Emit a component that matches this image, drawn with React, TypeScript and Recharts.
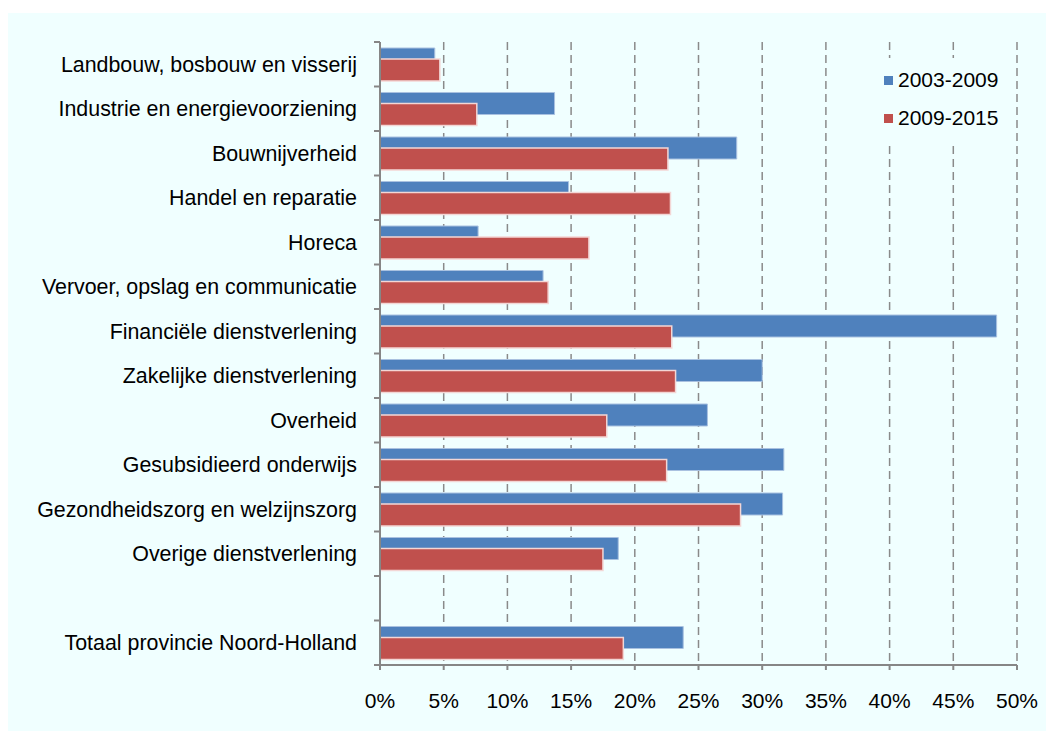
import React from "react";
import {
  Bar,
  BarChart,
  CartesianGrid,
  Legend,
  XAxis,
  YAxis,
} from "recharts";

// sectors (empty row separates the province total)
const sectors = [
  "Landbouw, bosbouw en visserij",
  "Industrie en energievoorziening",
  "Bouwnijverheid",
  "Handel en reparatie",
  "Horeca",
  "Vervoer, opslag en communicatie",
  "Financiële dienstverlening",
  "Zakelijke dienstverlening",
  "Overheid",
  "Gesubsidieerd onderwijs",
  "Gezondheidszorg en welzijnszorg",
  "Overige dienstverlening",
  "",
  "Totaal provincie Noord-Holland",
];

const growth2003_2009 = [
  0.043, 0.137, 0.28, 0.148, 0.077, 0.128, 0.484, 0.3, 0.257, 0.317, 0.316,
  0.187, null, 0.238,
];
const growth2009_2015 = [
  0.047, 0.076, 0.226, 0.228, 0.164, 0.132, 0.229, 0.232, 0.178, 0.225, 0.283,
  0.175, null, 0.191,
];

const xTicks = [0, 0.05, 0.1, 0.15, 0.2, 0.25, 0.3, 0.35, 0.4, 0.45, 0.5];

const BLUE = "#4F81BD";
const RED = "#C0504D";
const AXIS = "#868686";
const FONT = '"Liberation Sans", Arial, sans-serif';

const data = sectors.map((name, i) => ({
  name,
  p1: growth2003_2009[i],
  p2: growth2009_2015[i],
}));

function SectorTick(props: any) {
  const { x, y, payload, index } = props;
  const half = payload?.offset ?? 22.25;
  return (
    <g>
      <line x1={x - 6} x2={x} y1={y - half} y2={y - half} stroke={AXIS} strokeWidth={2} />
      {index === sectors.length - 1 && (
        <line x1={x - 6} x2={x} y1={y + half} y2={y + half} stroke={AXIS} strokeWidth={2} />
      )}
      <text
        x={x - 23}
        y={y}
        dy="0.355em"
        textAnchor="end"
        fill="#000"
        fontSize={21.4}
        fontFamily={FONT}
      >
        {payload.value}
      </text>
    </g>
  );
}

function PeriodLegend(props: any) {
  const items = props.payload || [];
  return (
    <div style={{ background: "#F0FFFF", padding: "3px 0 8px 14px" }}>
      {items.map((it: any) => (
        <div
          key={it.value}
          style={{
            display: "flex",
            alignItems: "center",
            height: 38,
            fontSize: 21,
            fontFamily: FONT,
            color: "#000",
          }}
        >
          <span
            style={{
              width: 9,
              height: 9,
              background: it.color,
              marginRight: 5,
              display: "inline-block",
            }}
          />
          {it.value}
        </div>
      ))}
    </div>
  );
}

export default function App() {
  return (
    <>
      <style>{`html, body { overflow: hidden; }`}</style>
      <div
        style={{
          position: "relative",
          top: 5,
          width: 1060,
          height: 730,
          background: "#F0FFFF",
        }}
      >
        <BarChart
          width={1046}
          height={718}
          data={data}
          layout="vertical"
          margin={{ top: 29, right: 37, bottom: 26, left: 0 }}
          barSize={22}
          barGap={-11}
        >
          <CartesianGrid
            horizontal={false}
            stroke="#8a8a8a"
            strokeWidth={1.5}
            strokeDasharray="8 5"
          />
          <XAxis
            type="number"
            domain={[0, 0.5]}
            ticks={xTicks}
            tickFormatter={(v: number) => `${Math.round(v * 100)}%`}
            axisLine={{ stroke: AXIS, strokeWidth: 2 }}
            tickLine={{ stroke: AXIS, strokeWidth: 2 }}
            tickSize={5}
            tickMargin={23}
            height={40}
            tick={{ fontSize: 21, fill: "#000", fontFamily: FONT }}
          />
          <YAxis
            type="category"
            dataKey="name"
            width={372}
            axisLine={{ stroke: AXIS, strokeWidth: 2 }}
            tickLine={false}
            tickSize={0}
            tickMargin={0}
            interval={0}
            tick={<SectorTick />}
          />
          <Legend
            layout="vertical"
            align="center"
            verticalAlign="middle"
            content={<PeriodLegend />}
            wrapperStyle={{ left: 862, top: 45, width: 146 }}
          />
          <Bar
            dataKey="p1"
            name="2003-2009"
            fill={BLUE}
            stroke="#a9c1e0"
            strokeWidth={1}
            isAnimationActive={false}
          />
          <Bar
            dataKey="p2"
            name="2009-2015"
            fill={RED}
            stroke="#f3d6d5"
            strokeWidth={1.5}
            isAnimationActive={false}
          />
        </BarChart>
      </div>
    </>
  );
}
